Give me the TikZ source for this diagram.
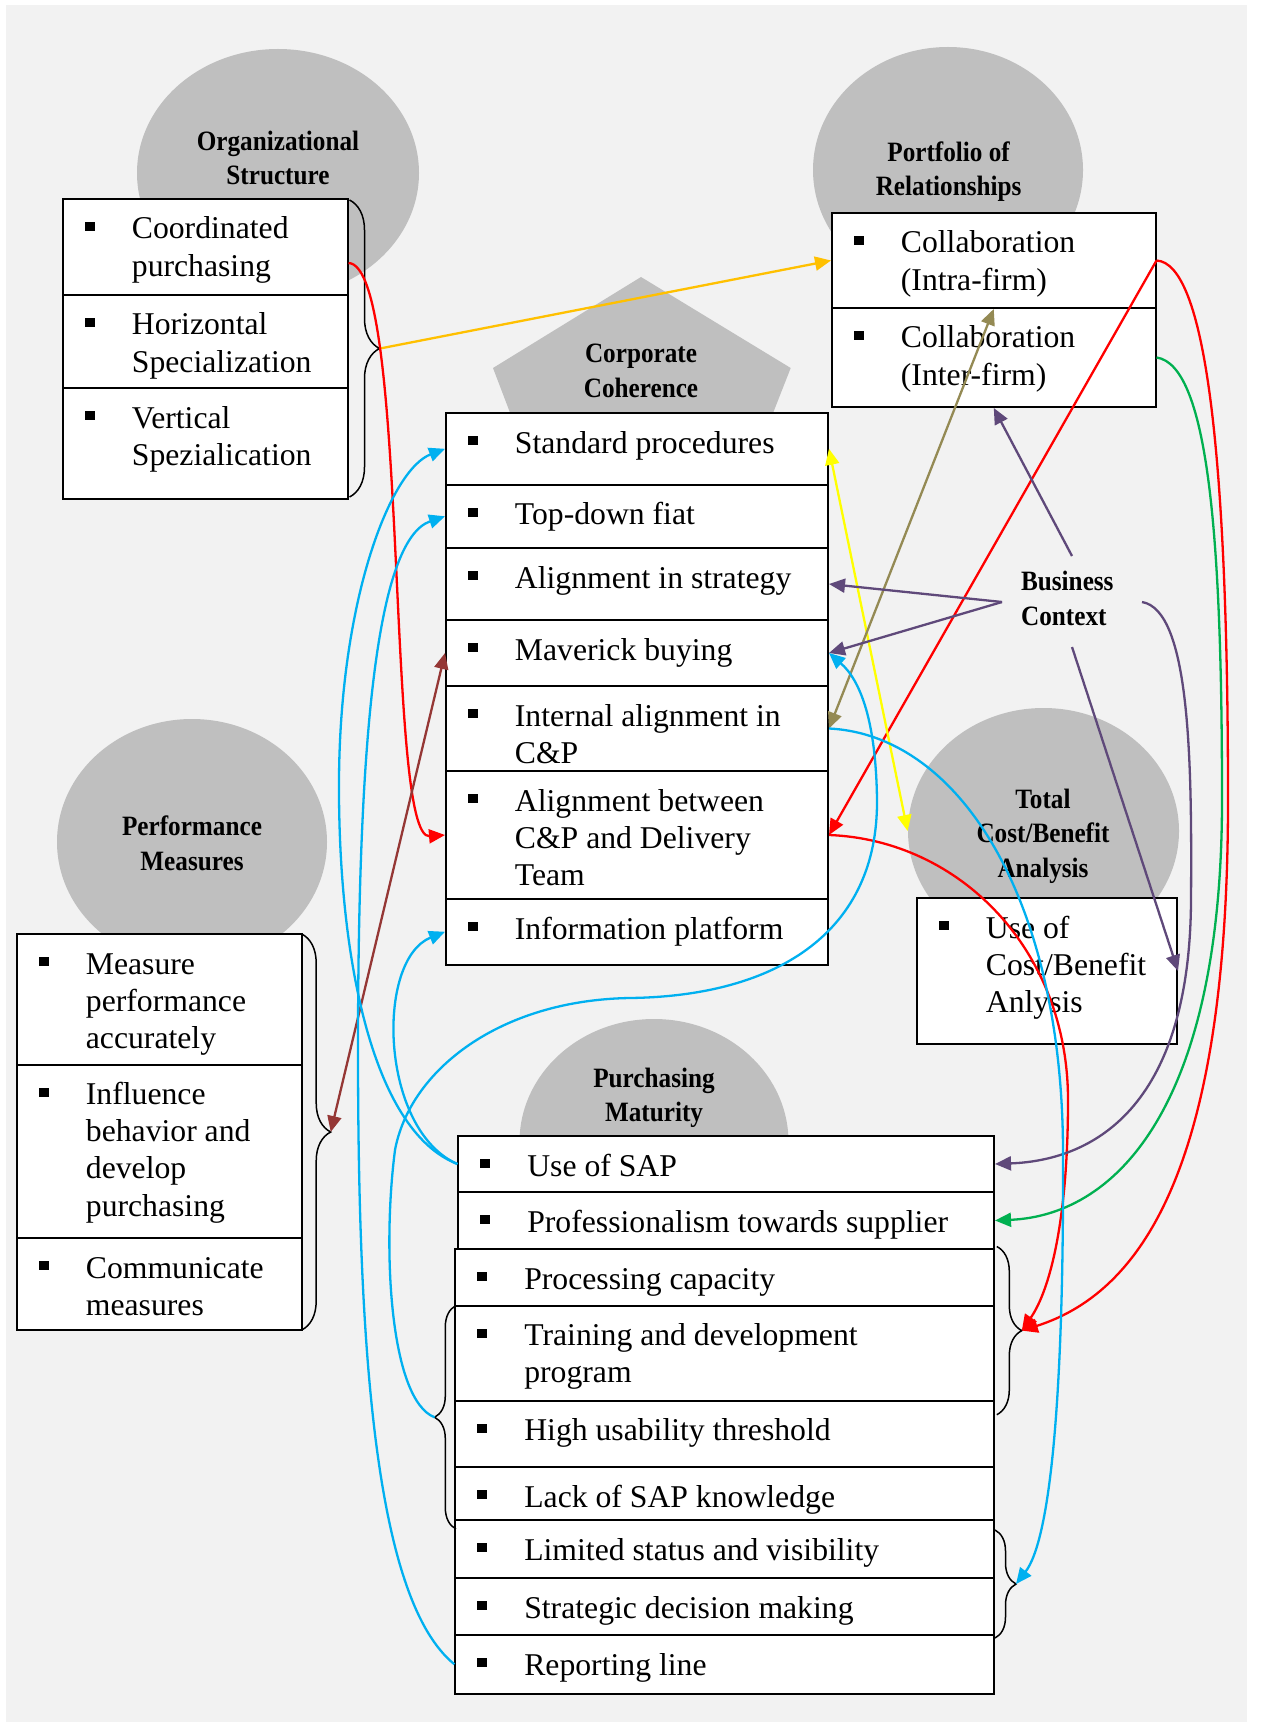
\documentclass[tikz,border=0pt]{standalone}
\usepackage{fontspec}
\setmainfont{Liberation Serif}
\newfontfamily\headfont[FakeStretch=0.9]{Liberation Serif}
\usetikzlibrary{arrows.meta,decorations.pathreplacing,shapes.geometric,fit,calc}

\definecolor{paper}{HTML}{F2F2F2}
\definecolor{blobgray}{HTML}{BFBFBF}
\definecolor{cred}{HTML}{FF0000}
\definecolor{cgold}{HTML}{FFC000}
\definecolor{cyel}{HTML}{FFFF00}
\definecolor{colive}{HTML}{948A54}
\definecolor{cpurple}{HTML}{5F497A}
\definecolor{ccyan}{HTML}{00B0F0}
\definecolor{cgreen}{HTML}{00B050}
\definecolor{cbrown}{HTML}{953735}

\newcommand\rowfont{\fontsize{15.85pt}{18.6pt}\selectfont}
\newcommand\headsize{\headfont\bfseries\fontsize{14pt}{17.25pt}\selectfont}
% top-aligned text blocks, so that the base anchor is the first line
\newcommand\leftblock[1]{\parbox[t]{260pt}{\raggedright #1}}
\newcommand\midblock[1]{\parbox[t]{160pt}{\centering #1}}

\tikzset{
  blob/.style={ellipse, fill=blobgray, inner sep=0pt},
  rowbox/.style={draw, fill=white, line width=1pt, inner sep=0pt},
  rowtext/.style={anchor=base west, inner sep=0pt, font=\rowfont},
  head/.style={inner sep=0pt, font=\headsize, anchor=base},
  bracket/.style={decorate, decoration={brace, amplitude=#1}, line width=0.75pt},
  tip/.style={Triangle[length=8pt,width=7pt]},
  link/.style={line width=1.15pt, -{Triangle[length=8pt,width=7pt]}},
  twoway/.style={line width=1.15pt, {Triangle[length=8pt,width=7pt]}-{Triangle[length=8pt,width=7pt]}},
}

% one bulleted row: name, left, top, right, bottom, text
\newcommand\bulletrow[6]{%
  \node[rowbox, fit={(#2,#3) (#4,#5)}] (#1) {};
  \fill ($(#1.north west)+(23,24)$) rectangle ++(10,9);
  \node[rowtext] (#1-t) at ($(#1.north west)+(69.5,41)$) {\leftblock{#6}};
}

\begin{document}
\begin{tikzpicture}[x=0.5pt,y=-0.5pt]
\useasboundingbox (0,0) rectangle (1260,1722);
\fill[white] (0,0) rectangle (1260,1722);
\fill[paper] (6,5) rectangle (1247,1722);

% theme shapes
\node[blob, minimum width=141pt, minimum height=124pt] (orgc) at (278,173) {};
\node[blob, minimum width=135pt, minimum height=123pt] (portc) at (948,170) {};
\node[blob, minimum width=135pt, minimum height=123pt] (perfc) at (192,842) {};
\node[blob, minimum width=135.5pt, minimum height=123pt] (totc) at (1043.5,831) {};
\node[blob, minimum width=134.5pt, minimum height=123pt] (purc) at (654,1142) {};
\fill[blobgray] (641,277) -- (790.7,368) -- (733,515) -- (549,515) -- (493,368) -- cycle;

% theme titles
\node[head] (orgl) at (278,150.5) {\midblock{Organizational\\Structure}};
\node[head] (portl) at (948.6,161.5) {\midblock{Portfolio of\\Relationships}};
\node[head] (cohl) at (641,362.5) {\midblock{Corporate\\Coherence}};
\node[head] (perfl) at (192,835.5) {\midblock{Performance\\Measures}};
\node[head] (totl) at (1043,808) {\midblock{Total\\Cost/Benefit\\Analysis}};
\node[head] (purl) at (654,1087) {\midblock{Purchasing\\Maturity}};
\node[head, anchor=base west] (bc) at (1020.7,590.5) {\leftblock{Business\\Context}};

% organizational structure
\bulletrow{coord}{63}{199}{347.5}{295}{Coordinated\\purchasing}
\bulletrow{horiz}{63}{295}{347.5}{388}{Horizontal\\Specialization}
\bulletrow{vert}{63}{388}{347.5}{499}{Vertical\\Spezialication}

% portfolio of relationships
\bulletrow{cintra}{832}{213}{1155.5}{308}{Collaboration\\(Intra-firm)}
\bulletrow{cinter}{832}{308}{1155.5}{407}{Collaboration\\(Inter-firm)}

% corporate coherence
\bulletrow{stdproc}{446}{413}{828}{484.6}{Standard procedures}
\bulletrow{topdown}{446}{484.6}{828}{548}{Top-down fiat}
\bulletrow{alstrat}{446}{548}{828}{620}{Alignment in strategy}
\bulletrow{maverick}{446}{620}{828}{686}{Maverick buying}
\bulletrow{intalign}{446}{686}{828}{771}{Internal alignment in\\C\&P}
\bulletrow{albetween}{446}{771}{828}{899}{Alignment between\\C\&P and Delivery\\Team}
\bulletrow{infoplat}{446}{899}{828}{964.5}{Information platform}

% total cost/benefit analysis
\bulletrow{costuse}{917}{898}{1177}{1044}{Use of\\Cost/Benefit\\Anlysis}

% performance measures
\bulletrow{measure}{17}{934}{301.7}{1064.5}{Measure\\performance\\accurately}
\bulletrow{influence}{17}{1064.5}{301.7}{1238}{Influence\\behavior and\\develop\\purchasing}
\bulletrow{communicate}{17}{1238}{301.7}{1330}{Communicate\\measures}

% purchasing maturity
\bulletrow{sapuse}{458.4}{1136}{994}{1192}{Use of SAP}
\bulletrow{prof}{458.4}{1192}{994}{1249}{Professionalism towards supplier}
\bulletrow{proccap}{455.4}{1249}{994}{1305.5}{Processing capacity}
\bulletrow{training}{455.4}{1305.5}{994}{1400.5}{Training and development\\program}
\bulletrow{usability}{455.4}{1400.5}{994}{1467}{High usability threshold}
\bulletrow{sapknow}{455.4}{1467}{994}{1520}{Lack of SAP knowledge}
\bulletrow{status}{455.4}{1520}{994}{1578}{Limited status and visibility}
\bulletrow{strategic}{455.4}{1578}{994}{1635}{Strategic decision making}
\bulletrow{reporting}{455.4}{1635}{994}{1693.5}{Reporting line}

% braces grouping rows
\draw[bracket=15pt] (349.5,200) -- (349.5,497);
\coordinate (orgtip) at (380,348.5);
\draw[bracket=14.5pt] (301.7,934) -- (301.7,1330);
\coordinate (perftip) at (330.7,1132);
\draw[bracket=12.5pt] (996.8,1246.5) -- (996.8,1414.7);
\coordinate (rtoptip) at (1021.8,1330.6);
\draw[bracket=10.5pt] (995,1530) -- (995,1638);
\coordinate (rbottip) at (1016,1584);
\draw[bracket=10.7pt] (456,1529) -- (456,1305.5);
\coordinate (ltip) at (434.6,1417.3);

% business context outlets
\coordinate (bcN) at (1072,556);
\coordinate (bcW) at (1002,602);
\coordinate (bcS) at (1072,647);
\coordinate (bcE) at (1142,602);

% connectors
\draw[link, cgold] (orgtip) -- (cintra.west);
\draw[link, cred] ($(coord.east)+(0,16)$) .. controls (410,265) and (385,840) .. (albetween.west);
\draw[link, cred] (cintra.east) -- (albetween.east);
\draw[link, cred] (cintra.east) .. controls (1205,263) and (1228,450) .. (1228,800)
   .. controls (1228,1150) and (1150,1290) .. (rtoptip);
\draw[link, cred] (albetween.east) .. controls (960,840) and (1068,950) .. (1068,1100)
   .. controls (1068,1220) and (1050,1290) .. (rtoptip);
\draw[twoway, cyel] (stdproc.east) -- (totc.west);
\draw[twoway, colive] (cintra.south) -- (intalign.east);
\draw[link, cpurple] (bcN) -- (cinter.south);
\draw[link, cpurple] (bcW) -- (alstrat.east);
\draw[link, cpurple] (bcW) -- (maverick.east);
\draw[link, cpurple] (bcS) -- (costuse.east);
\draw[link, cpurple] (bcE) .. controls (1190,610) and (1192,760) .. (1191,900)
   .. controls (1190,1100) and (1100,1160) .. (sapuse.east);
\draw[link, cgreen] (cinter.east) .. controls (1210,365) and (1222,550) .. (1222,800)
   .. controls (1222,1100) and (1120,1215) .. (prof.east);
\draw[twoway, cbrown] (maverick.west) -- (perftip);
\draw[link, ccyan] (sapuse.west) .. controls (370,1130) and (338,950) .. (339,780)
   .. controls (340,600) and (390,470) .. (stdproc.west);
\draw[link, ccyan] (sapuse.west) .. controls (380,1130) and (375,960) .. (infoplat.west);
\draw[link, ccyan] (reporting.west) .. controls (375,1600) and (358,1350) .. (358,1050)
   .. controls (358,750) and (375,540) .. (topdown.west);
\draw[link, ccyan] (intalign.east) .. controls (960,735) and (1062,900) .. (1063,1150)
   .. controls (1064,1400) and (1050,1540) .. (rbottip);
\draw[link, ccyan] (ltip) .. controls (390,1400) and (382,1250) .. (395,1150)
   .. controls (410,1070) and (500,1000) .. (630,998)
   .. controls (780,996) and (878,930) .. (877,800)
   .. controls (876,720) and (860,680) .. (maverick.east);
\end{tikzpicture}
\end{document}
